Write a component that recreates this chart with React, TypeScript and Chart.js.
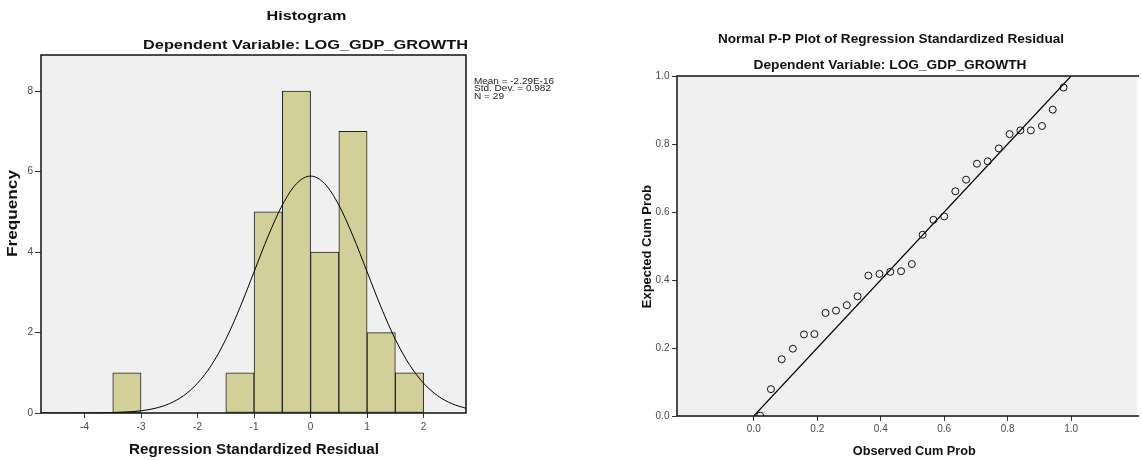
import React, { useEffect, useRef } from 'react';
import { Chart, registerables } from 'chart.js';

Chart.register(...registerables);

// ---------- Histogram data ----------
const binCenters = [-3.25, -2.75, -2.25, -1.75, -1.25, -0.75, -0.25, 0.25, 0.75, 1.25, 1.75];
const binCounts = [1, 0, 0, 0, 1, 5, 8, 4, 7, 2, 1];
const histXTicks = [-4, -3, -2, -1, 0, 1, 2];
const histYTicks = [0, 2, 4, 6, 8];
const curveX = [
  -4.75, -4.5, -4.25, -4, -3.75, -3.5, -3.25, -3, -2.75, -2.5, -2.25, -2, -1.75, -1.5, -1.25, -1,
  -0.75, -0.5, -0.25, 0, 0.25, 0.5, 0.75, 1, 1.25, 1.5, 1.75, 2, 2.25, 2.5, 2.75,
];
const curveY = [
  0.0, 0.0, 0.0, 0.002, 0.004, 0.01, 0.025, 0.055, 0.117, 0.231, 0.427, 0.74, 1.2, 1.83, 2.62, 3.51,
  4.4, 5.17, 5.7, 5.89, 5.7, 5.17, 4.4, 3.51, 2.62, 1.83, 1.2, 0.74, 0.427, 0.231, 0.117,
];
const statsLines = ['Mean = -2.29E-16', 'Std. Dev. = 0.982', 'N = 29'];

// ---------- P-P plot data ----------
const observedCumProb = [
  0.02, 0.054, 0.088, 0.123, 0.158, 0.191, 0.226, 0.259, 0.293, 0.327, 0.361, 0.396, 0.43, 0.464, 0.498,
  0.532, 0.566, 0.6, 0.635, 0.669, 0.703, 0.737, 0.772, 0.806, 0.84, 0.873, 0.908, 0.942, 0.976,
];
const expectedCumProb = [
  0.001, 0.079, 0.167, 0.198, 0.24, 0.241, 0.303, 0.31, 0.326, 0.352, 0.413, 0.418, 0.424, 0.426, 0.447,
  0.533, 0.577, 0.587, 0.661, 0.695, 0.742, 0.749, 0.787, 0.829, 0.84, 0.84, 0.853, 0.901, 0.966,
];
const diagonalX = [0, 1];
const diagonalY = [0, 1];
const ppTicks = [0, 0.2, 0.4, 0.6, 0.8, 1.0];

const FONT = "'Liberation Sans', Arial, sans-serif";

// Draws text whose cap centre sits at (cx, capCy), stretched along its own
// direction so that it spans `target` pixels (SPSS renders text wide).
function drawFitted(
  ctx: CanvasRenderingContext2D,
  text: string,
  cx: number,
  capCy: number,
  target: number,
  size: number,
  rotate = false,
  weight = 'bold',
  align: 'center' | 'left' = 'center',
  color = '#111',
) {
  ctx.save();
  ctx.font = `${weight} ${size}px ${FONT}`;
  const w0 = ctx.measureText(text).width;
  const sx = w0 > 0 ? target / w0 : 1;
  ctx.fillStyle = color;
  ctx.textAlign = 'left';
  ctx.textBaseline = 'alphabetic';
  ctx.translate(cx, capCy);
  if (rotate) ctx.rotate(-Math.PI / 2);
  ctx.scale(sx, 1);
  const x0 = align === 'center' ? -w0 / 2 : 0;
  ctx.fillText(text, x0, size * 0.358);
  ctx.restore();
}

const histPlugin = {
  id: 'histDeco',
  beforeDraw(chart: any) {
    const { ctx, chartArea: a } = chart;
    ctx.save();
    ctx.fillStyle = '#f0f0f0';
    ctx.fillRect(a.left, a.top, a.right - a.left, a.bottom - a.top);
    ctx.restore();
  },
  afterDatasetsDraw(chart: any) {
    const { ctx, chartArea: a } = chart;
    ctx.save();
    ctx.strokeStyle = '#111';
    ctx.lineWidth = 1.5;
    ctx.strokeRect(a.left, a.top, a.right - a.left, a.bottom - a.top);
    ctx.restore();
  },
  afterDraw(chart: any) {
    const { ctx } = chart;
    drawFitted(ctx, 'Histogram', 306.5, 15.5, 80, 13);
    drawFitted(ctx, 'Dependent Variable: LOG_GDP_GROWTH', 305.5, 44, 325, 13);
    drawFitted(ctx, 'Frequency', 12.3, 213.5, 87, 14, true);
    drawFitted(ctx, 'Regression Standardized Residual', 254, 449.2, 250, 14);
    const ys = [80.5, 88, 95.5];
    const widths = [80, 77, 30];
    statsLines.forEach((t, i) => drawFitted(ctx, t, 474, ys[i], widths[i], 8.5, false, 'normal', 'left', '#222'));
  },
};

const ppPlugin = {
  id: 'ppDeco',
  beforeDraw(chart: any) {
    const { ctx, chartArea: a } = chart;
    ctx.save();
    ctx.fillStyle = '#f0f0f0';
    ctx.fillRect(a.left, a.top, a.right - a.left, a.bottom - a.top);
    ctx.restore();
  },
  afterDatasetsDraw(chart: any) {
    const { ctx, chartArea: a } = chart;
    ctx.save();
    ctx.strokeStyle = '#111';
    ctx.lineWidth = 1.5;
    ctx.beginPath();
    ctx.moveTo(a.right + 2, a.top);
    ctx.lineTo(a.left, a.top);
    ctx.lineTo(a.left, a.bottom);
    ctx.lineTo(a.right + 2, a.bottom);
    ctx.stroke();
    ctx.restore();
  },
  afterDraw(chart: any) {
    const { ctx } = chart;
    const off = 620;
    drawFitted(ctx, 'Normal P-P Plot of Regression Standardized Residual', 891 - off, 38.8, 346, 12);
    drawFitted(ctx, 'Dependent Variable: LOG_GDP_GROWTH', 890 - off, 64.7, 273, 12);
    drawFitted(ctx, 'Expected Cum Prob', 646.3 - off, 246.7, 123, 12, true);
    drawFitted(ctx, 'Observed Cum Prob', 914.3 - off, 450.5, 123, 12);
  },
};

const tickFont = { family: FONT, size: 10 };
const tickColor = '#4a4a4a';

function histConfig(): any {
  return {
    type: 'bar',
    data: {
      datasets: [
        {
          type: 'line',
          data: curveX.map((x, i) => ({ x, y: curveY[i] })),
          borderColor: '#000',
          borderWidth: 1,
          pointRadius: 0,
          cubicInterpolationMode: 'monotone',
          fill: false,
          order: 0,
        },
        {
          type: 'bar',
          data: binCenters.map((x, i) => ({ x, y: binCounts[i] })),
          backgroundColor: '#d3cf99',
          borderColor: '#222',
          borderWidth: 1,
          borderSkipped: false,
          barPercentage: 1,
          categoryPercentage: 1,
          order: 1,
        },
      ],
    },
    options: {
      responsive: false,
      animation: false,
      devicePixelRatio: 1,
      layout: { padding: { left: 0, top: 55, right: 620 - 466, bottom: 0 } },
      plugins: { legend: { display: false }, tooltip: { enabled: false }, title: { display: false } },
      scales: {
        x: {
          type: 'linear',
          offset: false,
          min: -4.77,
          max: 2.75,
          afterBuildTicks: (s: any) => {
            s.ticks = histXTicks.map((v) => ({ value: v }));
          },
          afterFit: (s: any) => {
            s.height = 47;
          },
          ticks: { font: tickFont, color: tickColor, padding: 3, maxRotation: 0, autoSkip: false, callback: (v: any) => String(v) },
          grid: { display: true, drawOnChartArea: false, drawTicks: true, tickLength: 5, color: '#333', offset: false },
          border: { display: false },
        },
        y: {
          type: 'linear',
          min: 0,
          max: 8.9,
          afterBuildTicks: (s: any) => {
            s.ticks = histYTicks.map((v) => ({ value: v }));
          },
          afterFit: (s: any) => {
            s.width = 41;
          },
          ticks: { font: tickFont, color: tickColor, padding: 2, callback: (v: any) => String(v) },
          grid: { display: true, drawOnChartArea: false, drawTicks: true, tickLength: 6, color: '#333' },
          border: { display: false },
        },
      },
    },
    plugins: [histPlugin],
  };
}

function ppConfig(): any {
  return {
    type: 'scatter',
    data: {
      datasets: [
        {
          type: 'line',
          data: diagonalX.map((x, i) => ({ x, y: diagonalY[i] })),
          borderColor: '#000',
          borderWidth: 1.2,
          pointRadius: 0,
          fill: false,
          order: 1,
        },
        {
          type: 'scatter',
          data: observedCumProb.map((x, i) => ({ x, y: expectedCumProb[i] })),
          pointRadius: 3.5,
          pointBorderWidth: 1,
          pointBorderColor: '#111',
          pointBackgroundColor: 'rgba(0,0,0,0)',
          clip: 0,
          order: 0,
        },
      ],
    },
    options: {
      responsive: false,
      animation: false,
      devicePixelRatio: 1,
      layout: { padding: { left: 0, top: 76, right: 0, bottom: 0 } },
      plugins: { legend: { display: false }, tooltip: { enabled: false }, title: { display: false } },
      scales: {
        x: {
          type: 'linear',
          min: -0.242,
          max: 1.2075,
          afterBuildTicks: (s: any) => {
            s.ticks = ppTicks.map((v) => ({ value: v }));
          },
          afterFit: (s: any) => {
            s.height = 44;
          },
          ticks: { font: tickFont, color: tickColor, padding: 2.5, maxRotation: 0, autoSkip: false, callback: (v: any) => Number(v).toFixed(1) },
          grid: { display: true, drawOnChartArea: false, drawTicks: true, tickLength: 5, color: '#333' },
          border: { display: false },
        },
        y: {
          type: 'linear',
          min: 0,
          max: 1,
          afterBuildTicks: (s: any) => {
            s.ticks = ppTicks.map((v) => ({ value: v }));
          },
          afterFit: (s: any) => {
            s.width = 57;
          },
          ticks: { font: tickFont, color: tickColor, padding: 2.5, callback: (v: any) => Number(v).toFixed(1) },
          grid: { display: true, drawOnChartArea: false, drawTicks: true, tickLength: 5, color: '#333' },
          border: { display: false },
        },
      },
    },
    plugins: [ppPlugin],
  };
}

export default function App() {
  const leftRef = useRef<HTMLCanvasElement>(null);
  const rightRef = useRef<HTMLCanvasElement>(null);

  useEffect(() => {
    if (!leftRef.current || !rightRef.current) return;
    const c1 = new Chart(leftRef.current, histConfig());
    const c2 = new Chart(rightRef.current, ppConfig());
    return () => {
      c1.destroy();
      c2.destroy();
    };
  }, []);

  return (
    <div
      style={{
        position: 'absolute',
        left: 0,
        top: 0,
        width: 1142,
        height: 460,
        background: '#fff',
        overflow: 'hidden',
      }}
    >
      <canvas
        ref={leftRef}
        width={620}
        height={460}
        style={{ position: 'absolute', left: 0, top: 0, width: 620, height: 460 }}
      />
      <canvas
        ref={rightRef}
        width={522}
        height={460}
        style={{ position: 'absolute', left: 620, top: 0, width: 522, height: 460 }}
      />
    </div>
  );
}
